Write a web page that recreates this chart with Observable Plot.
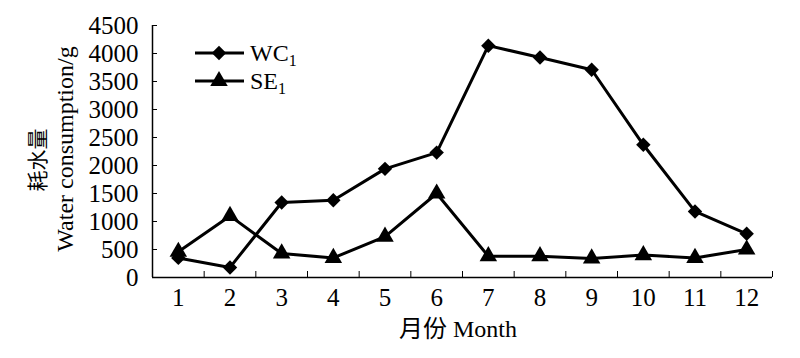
<!DOCTYPE html>
<html>
<head>
<meta charset="utf-8">
<script src="https://cdn.jsdelivr.net/npm/d3@7"></script>
<script src="https://cdn.jsdelivr.net/npm/@observablehq/plot@0.6"></script>
<style>
  html, body { margin: 0; padding: 0; background: #fff; }
  #chart { width: 800px; height: 358px; position: relative; }
</style>
</head>
<body>
<div id="chart"></div>
<script>
const months = [1, 2, 3, 4, 5, 6, 7, 8, 9, 10, 11, 12];
const wc1 = [350, 180, 1340, 1380, 1940, 2230, 4140, 3930, 3710, 2370, 1180, 780];
const se1 = [460, 1100, 430, 350, 730, 1500, 380, 380, 340, 400, 350, 500];
const yTicks = [0, 500, 1000, 1500, 2000, 2500, 3000, 3500, 4000, 4500];
const seriesNames = ["WC", "SE"];

const data = [];
months.forEach((m, i) => {
  data.push({month: m, value: wc1[i], series: seriesNames[0]});
  data.push({month: m, value: se1[i], series: seriesNames[1]});
});
const boundaries = months.map(m => m - 0.5).concat([months[months.length - 1] + 0.5]);

const serif = "'Liberation Serif', 'Times New Roman', serif";

const chart = Plot.plot({
  width: 800,
  height: 358,
  marginLeft: 152,
  marginRight: 28,
  marginTop: 25,
  marginBottom: 81,
  style: {fontFamily: serif, fontSize: "25px", color: "#000", background: "#fff"},
  x: {type: "linear", domain: [0.5, 12.5]},
  y: {domain: [0, 4500]},
  marks: [
    Plot.axisY({ticks: yTicks, tickSize: -5, tickPadding: 19, tickFormat: d => String(d), label: null, fontSize: 25}),
    Plot.axisX({ticks: boundaries, tickSize: -6, tickFormat: () => "", label: null}),
    Plot.axisX({ticks: months, tickSize: 0, tickPadding: 11, tickFormat: d => String(d), label: null, fontSize: 25}),
    Plot.ruleY([0], {stroke: "#000", strokeWidth: 1.5}),
    Plot.ruleX([0.5], {stroke: "#000", strokeWidth: 1.5}),
    Plot.line(data.filter(d => d.series === seriesNames[0]), {x: "month", y: "value", stroke: "#000", strokeWidth: 3}),
    Plot.line(data.filter(d => d.series === seriesNames[1]), {x: "month", y: "value", stroke: "#000", strokeWidth: 3}),
    Plot.dot(data.filter(d => d.series === seriesNames[0]), {x: "month", y: "value", symbol: "diamond2", r: 6.5, fill: "#000", stroke: "none"}),
    Plot.dot(data.filter(d => d.series === seriesNames[1]), {x: "month", y: "value", symbol: "triangle", r: 6.5, fill: "#000", stroke: "none"})
  ]
});

document.getElementById("chart").appendChild(chart);

const svg = d3.select(chart);
// y axis titles
svg.append("text")
  .attr("transform", "translate(45,160) rotate(-90)")
  .attr("text-anchor", "middle")
  .attr("font-family", "'Noto Sans CJK SC', sans-serif")
  .attr("font-size", 21)
  .attr("fill", "#000")
  .text("耗水量");
svg.append("text")
  .attr("transform", "translate(73,149) rotate(-90)")
  .attr("text-anchor", "middle")
  .attr("font-family", serif)
  .attr("font-size", 24)
  .attr("fill", "#000")
  .text("Water consumption/g");
// x axis title
const xt = svg.append("text")
  .attr("x", 458)
  .attr("y", 337)
  .attr("text-anchor", "middle")
  .attr("font-size", 24)
  .attr("fill", "#000");
xt.append("tspan").attr("font-family", "'Noto Sans CJK SC', sans-serif").text("月份");
xt.append("tspan").attr("font-family", serif).text(" Month");

// legend
const legend = [
  {name: seriesNames[0], symbol: d3.symbolDiamond2, y: 53},
  {name: seriesNames[1], symbol: d3.symbolTriangle, y: 81}
];
legend.forEach(l => {
  svg.append("line").attr("x1", 195).attr("x2", 244).attr("y1", l.y).attr("y2", l.y)
    .attr("stroke", "#000").attr("stroke-width", 3);
  svg.append("path").attr("transform", `translate(219,${l.y})`)
    .attr("d", d3.symbol(l.symbol, 6.5 * 6.5 * Math.PI)()).attr("fill", "#000");
  const t = svg.append("text").attr("x", 250).attr("y", l.y + 8)
    .attr("text-anchor", "start")
    .attr("font-family", serif).attr("font-size", 24).attr("fill", "#000");
  t.append("tspan").text(l.name);
  t.append("tspan").attr("font-size", 16).attr("dy", 5).text("1");
});
</script>
</body>
</html>
